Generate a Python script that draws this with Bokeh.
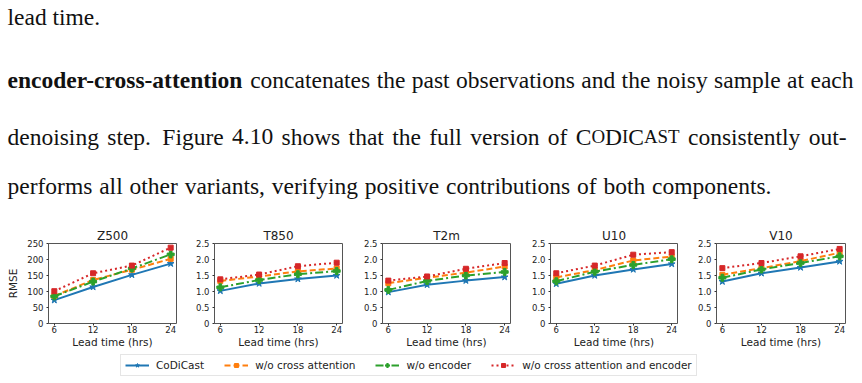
from bokeh.plotting import figure
from bokeh.layouts import column, row
from bokeh.models import Range1d, FixedTicker, Legend, LegendItem, ColumnDataSource
from bokeh.core.properties import value
from bokeh.embed import file_html
from bokeh.resources import INLINE

# ---- data -------------------------------------------------------------
lead_hours = [6, 12, 18, 24]
panels = ["Z500", "T850", "T2m", "U10", "V10"]
series_names = ["CoDiCast", "w/o cross attention", "w/o encoder",
                "w/o cross attention and encoder"]

z500 = {
    "CoDiCast": [73, 114, 152, 187],
    "w/o cross attention": [86, 136, 168, 202],
    "w/o encoder": [85, 131, 172, 216],
    "w/o cross attention and encoder": [101, 157, 181, 237],
}
t850 = {
    "CoDiCast": [1.02, 1.25, 1.39, 1.50],
    "w/o cross attention": [1.33, 1.47, 1.63, 1.72],
    "w/o encoder": [1.13, 1.36, 1.54, 1.64],
    "w/o cross attention and encoder": [1.38, 1.53, 1.79, 1.90],
}
t2m = {
    "CoDiCast": [0.98, 1.21, 1.34, 1.45],
    "w/o cross attention": [1.26, 1.43, 1.59, 1.78],
    "w/o encoder": [1.05, 1.33, 1.50, 1.61],
    "w/o cross attention and encoder": [1.34, 1.47, 1.71, 1.89],
}
u10 = {
    "CoDiCast": [1.24, 1.50, 1.69, 1.86],
    "w/o cross attention": [1.44, 1.67, 1.97, 2.09],
    "w/o encoder": [1.32, 1.62, 1.83, 2.01],
    "w/o cross attention and encoder": [1.57, 1.81, 2.15, 2.23],
}
v10 = {
    "CoDiCast": [1.31, 1.57, 1.75, 1.94],
    "w/o cross attention": [1.52, 1.73, 1.95, 2.21],
    "w/o encoder": [1.43, 1.69, 1.89, 2.10],
    "w/o cross attention and encoder": [1.73, 1.89, 2.10, 2.33],
}
panel_data = [z500, t850, t2m, u10, v10]
z500_ticks = [0, 50, 100, 150, 200, 250]
small_ticks = [0, 0.5, 1.0, 1.5, 2.0, 2.5]

# ---- styles -------------------------------------------------------------
styles = {
    "CoDiCast": dict(color="#1f77b4", dash="solid", marker="star", size=7),
    "w/o cross attention": dict(color="#ff7f0e", dash="6 3", marker="square", size=5),
    "w/o encoder": dict(color="#2ca02c", dash="8 3 2 3", marker="plus", size=7),
    "w/o cross attention and encoder": dict(color="#d62728", dash="2 3", marker="square", size=5),
}
SANS = "DejaVu Sans"
SERIF = "Liberation Serif"
TXT = "#222222"
BODY = 23.5   # body text size, px
SC = 18.9     # small-caps size, px

# Liberation Serif advance widths (per 1000 em) used for justifying lines
REG = {c: 500 for c in "bdghknopquvxy0123456789"}
REG.update({"a": 444, "c": 444, "e": 444, "z": 444, "f": 333, "r": 333,
            "i": 278, "j": 278, "l": 278, "t": 278, "s": 389, "m": 778,
            "w": 722, ".": 250, ",": 250, "-": 333, " ": 250,
            "F": 556, "C": 667, "O": 722, "D": 722, "I": 333,
            "A": 722, "S": 556, "T": 611})
BOLD = {"a": 500, "c": 444, "d": 556, "e": 444, "i": 278, "n": 556, "o": 500,
        "r": 444, "s": 389, "t": 333, "-": 333}


def text_width(s, size, bold=False):
    table = BOLD if bold else REG
    return sum(table.get(ch, 500) for ch in s) * size / 1000.0


# ---- paragraph text ---------------------------------------------------
TEXT_H = 226
txt = figure(width=862, height=TEXT_H, x_range=Range1d(0, 862),
             y_range=Range1d(TEXT_H, 0), output_backend="svg",
             toolbar_location=None, min_border=0)
txt.axis.visible = False
txt.grid.visible = False
txt.outline_line_color = None


def put(x, y, s, size=BODY, bold=False, align="left"):
    txt.text(x=[x], y=[y], text=[s], text_font=value(SERIF),
             text_font_size=f"{size}px",
             text_font_style="bold" if bold else "normal",
             text_align=align, text_baseline="alphabetic", text_color="#111111")


def justify(y, x0, x1, words, wide_after=()):
    """words: list of words, each a list of (text, size, bold) pieces."""
    widths = [sum(text_width(t, sz, b) for t, sz, b in w) for w in words]
    extra = 3.0
    free = x1 - x0 - sum(widths) - extra * len(wide_after)
    gap = free / (len(words) - 1)
    x = x0
    for i, (w, wd) in enumerate(zip(words, widths)):
        px = x
        for t, sz, b in w:
            put(px, y, t, size=sz, bold=b)
            px += text_width(t, sz, b)
        x += wd + gap + (extra if i in wide_after else 0)


def plain(line):
    return [[(w, BODY, False)] for w in line.split()]


put(7, 16, "lead time.")

justify(79, 7, 853,
        [[("encoder-cross-attention", BODY, True)]]
        + plain("concatenates the past observations and the noisy sample at each"))

codicast = [("C", BODY, False), ("O", SC, False), ("D", BODY, False),
            ("I", SC, False), ("C", BODY, False), ("AST", SC, False)]
justify(136, 7, 846,
        plain("denoising step. Figure 4.10 shows that the full version of")
        + [codicast] + plain("consistently out-"),
        wide_after=(1,))

justify(185, 7, 771,
        plain("performs all other variants, verifying positive contributions "
              "of both components."))

# ---- small multiples ----------------------------------------------------
# (figure width, left border, right border)
frames = [(192, 48, 16), (168, 20, 18), (168, 20, 18), (166, 21, 17), (168, 22, 17)]
PLOT_H = 126
plots = []
for k, (name, data) in enumerate(zip(panels, panel_data)):
    w, lb, rb = frames[k]
    ticks = z500_ticks if name == "Z500" else small_ticks
    p = figure(width=w, height=PLOT_H, title=name, output_backend="svg",
               toolbar_location=None, x_range=Range1d(5.1, 24.9),
               y_range=Range1d(ticks[0], ticks[-1]),
               min_border_left=lb, min_border_right=rb,
               min_border_top=17, min_border_bottom=29)
    p.title.align = "center"
    p.title.text_font = SANS
    p.title.text_font_size = "12px"
    p.title.text_font_style = "normal"
    p.title.text_color = TXT
    p.title.standoff = 1
    p.grid.visible = False
    p.outline_line_color = "#555555"
    p.outline_line_width = 1
    p.background_fill_color = "white"
    p.border_fill_color = "white"
    p.xaxis.ticker = FixedTicker(ticks=lead_hours)
    p.yaxis.ticker = FixedTicker(ticks=ticks)
    if name != "Z500":
        p.yaxis.major_label_overrides = {0: "0", 0.5: "0.5", 1: "1.0", 1.5: "1.5",
                                         2: "2.0", 2.5: "2.5"}
    p.xaxis.axis_label = "Lead time (hrs)"
    if name == "Z500":
        p.yaxis.axis_label = "RMSE"
    for ax in (p.xaxis, p.yaxis):
        ax.axis_line_color = None
        ax.major_tick_in = 0
        ax.major_tick_out = 2
        ax.major_tick_line_color = "#333333"
        ax.minor_tick_line_color = None
        ax.major_label_text_font = SANS
        ax.major_label_text_font_size = "8.5px"
        ax.major_label_text_color = TXT
        ax.axis_label_text_font = SANS
        ax.axis_label_text_font_size = "10.5px"
        ax.axis_label_text_font_style = "normal"
        ax.axis_label_text_color = TXT
    p.xaxis.major_label_standoff = 0
    p.xaxis.axis_label_standoff = 0
    p.yaxis.major_label_standoff = 3
    p.yaxis.axis_label_standoff = 5
    for s in series_names:
        st = styles[s]
        src = ColumnDataSource(dict(x=lead_hours, y=data[s]))
        p.line("x", "y", source=src, line_color=st["color"], line_width=2,
               line_dash=st["dash"])
        p.scatter("x", "y", source=src, marker=st["marker"], size=st["size"],
                  fill_color=st["color"], line_color=st["color"])
    plots.append(p)

# ---- shared legend --------------------------------------------------------
# placeholder renderers (NaN points are never drawn) that only carry the styles
LEG_H = 383 - TEXT_H - PLOT_H
leg = figure(width=862, height=LEG_H, x_range=Range1d(0, 1), y_range=Range1d(0, 1),
             output_backend="svg", toolbar_location=None, min_border=0)
leg.axis.visible = False
leg.grid.visible = False
leg.outline_line_color = None
items = []
for s in series_names:
    st = styles[s]
    blank = ColumnDataSource(dict(x=[float("nan")], y=[float("nan")]))
    lr = leg.line("x", "y", source=blank, line_color=st["color"], line_width=2,
                  line_dash=st["dash"])
    sr = leg.scatter("x", "y", source=blank, marker=st["marker"], size=st["size"],
                     fill_color=st["color"], line_color=st["color"])
    items.append(LegendItem(label=s, renderers=[lr, sr]))
legend = Legend(items=items, orientation="horizontal", location=(120, 7),
                label_text_font=SANS, label_text_font_size="10.5px",
                label_text_color=TXT, glyph_width=24, glyph_height=10,
                label_standoff=7, spacing=20, padding=4, margin=0,
                border_line_color="#cccccc", border_line_width=1,
                label_height=10)
leg.add_layout(legend, "center")

layout = column(txt, row(*plots, spacing=0), leg, spacing=0)
open("out.html", "w").write(file_html(layout, INLINE))
